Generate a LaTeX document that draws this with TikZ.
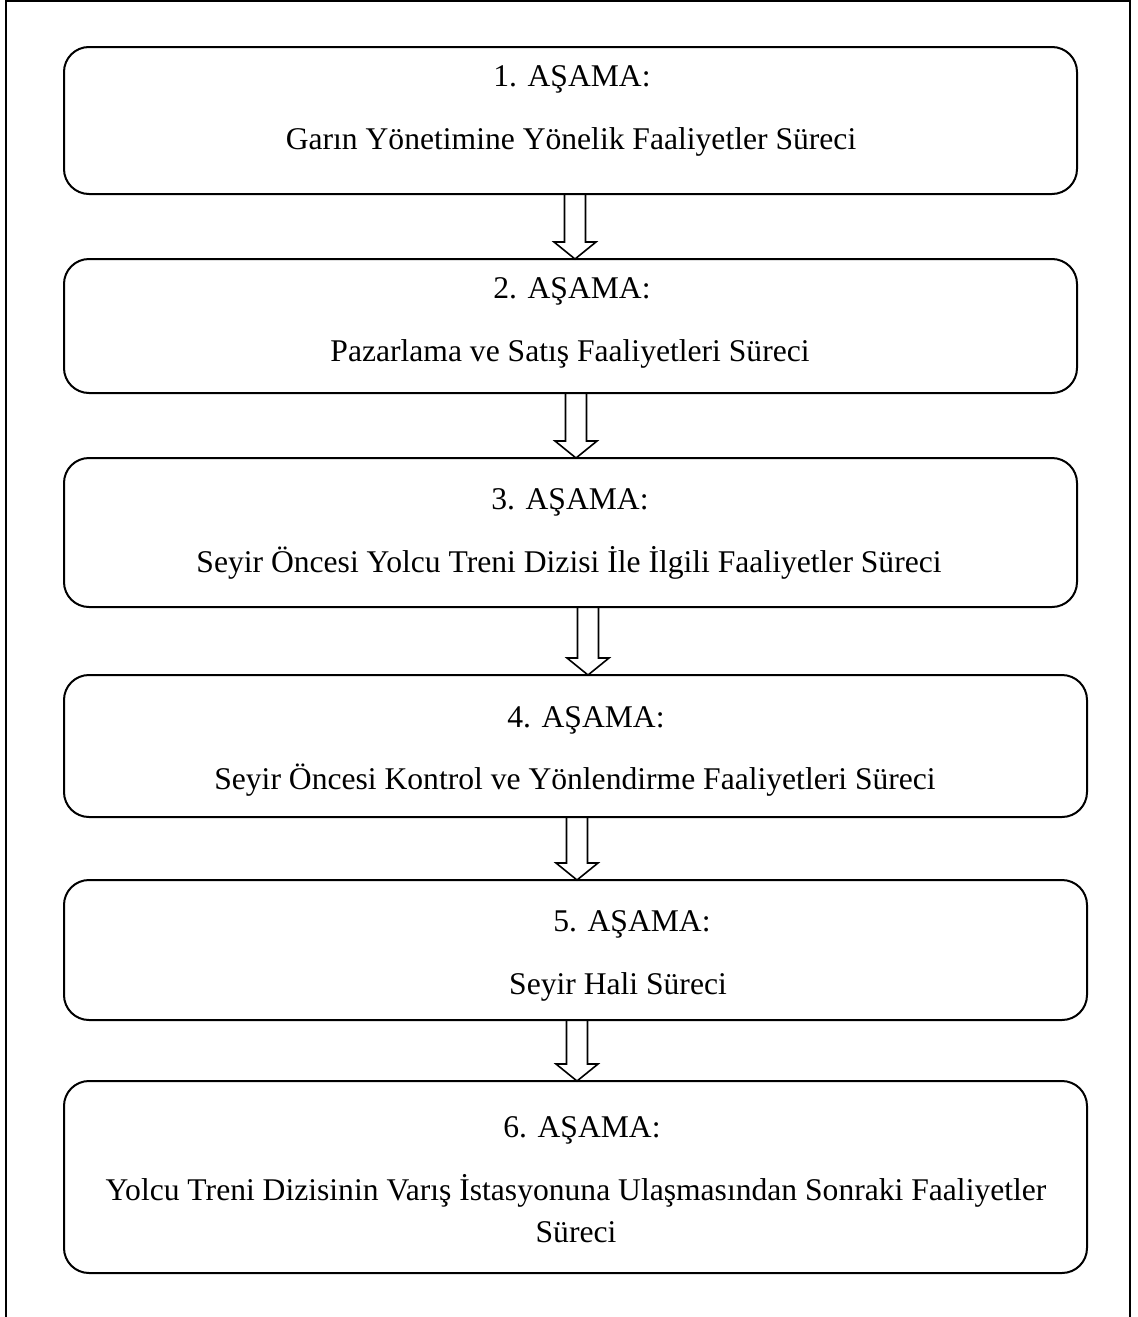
\documentclass[tikz,border=0pt]{standalone}
\usepackage{fontspec}
\setmainfont{Liberation Serif}
\usetikzlibrary{calc}

\tikzset{
  stage/.style={draw, rounded corners=12.5pt, line width=1pt, inner sep=0pt, outer sep=0pt},
  stagetext/.style={anchor=base, inner sep=0pt, align=center, font=\fontsize{15.8}{21}\selectfont},
  hollow/.style={line width=0.8pt, line join=miter}
}

% hollow block arrow from one stage to the next, at a given x
\newcommand{\stagearrow}[3]{%
  \coordinate (ax) at (#3,0);
  \draw[hollow] ($(ax |- #1.south)+(-10.5,0)$) -- ($(ax |- #2.north)+(-10.5,-17)$)
    -- ($(ax |- #2.north)+(-21,-17)$) -- (ax |- #2.north)
    -- ($(ax |- #2.north)+(21,-17)$) -- ($(ax |- #2.north)+(10.5,-17)$)
    -- ($(ax |- #1.south)+(10.5,0)$);
}

\begin{document}
\begin{tikzpicture}[x=0.5pt, y=-0.5pt]

    \useasboundingbox (0,0) rectangle (1137,1317);

    % Outer frame
    \draw[line width=1pt] (6,1317) -- (6,1) -- (1130,1) -- (1130,1317);

    % Define stages
    \node[stage, minimum width=506.5pt, minimum height=73.5pt] (b1) at (570.5,120.5) {};
    \node[stage, minimum width=506.5pt, minimum height=67pt]   (b2) at (570.5,326) {};
    \node[stage, minimum width=506.5pt, minimum height=74.5pt] (b3) at (570.5,532.5) {};
    \node[stage, minimum width=511.5pt, minimum height=71pt]   (b4) at (575.5,746) {};
    \node[stage, minimum width=511.5pt, minimum height=70pt]   (b5) at (575.5,950) {};
    \node[stage, minimum width=511.5pt, minimum height=96pt]   (b6) at (575.5,1177) {};

    % Stage texts
    \node[stagetext] (t1) at (572,86) {1. AŞAMA:};
    \node[stagetext] (d1) at (571,149) {Garın Yönetimine Yönelik Faaliyetler Süreci};
    \node[stagetext] (t2) at (572,298) {2. AŞAMA:};
    \node[stagetext] (d2) at (570,361) {Pazarlama ve Satış Faaliyetleri Süreci};
    \node[stagetext] (t3) at (570,509) {3. AŞAMA:};
    \node[stagetext] (d3) at (569,572) {Seyir Öncesi Yolcu Treni Dizisi İle İlgili Faaliyetler Süreci};
    \node[stagetext] (t4) at (586,727) {4. AŞAMA:};
    \node[stagetext] (d4) at (575,789) {Seyir Öncesi Kontrol ve Yönlendirme Faaliyetleri Süreci};
    \node[stagetext] (t5) at (632,931) {5. AŞAMA:};
    \node[stagetext] (d5) at (618,994) {Seyir Hali Süreci};
    \node[stagetext] (t6) at (582,1137) {6. AŞAMA:};
    \node[stagetext] (d6) at (576,1242) {Yolcu Treni Dizisinin Varış İstasyonuna Ulaşmasından Sonraki Faaliyetler\\Süreci};

    % Connect the stages
    \stagearrow{b1}{b2}{575}
    \stagearrow{b2}{b3}{576}
    \stagearrow{b3}{b4}{588}
    \stagearrow{b4}{b5}{577}
    \stagearrow{b5}{b6}{577}

\end{tikzpicture}
\end{document}
